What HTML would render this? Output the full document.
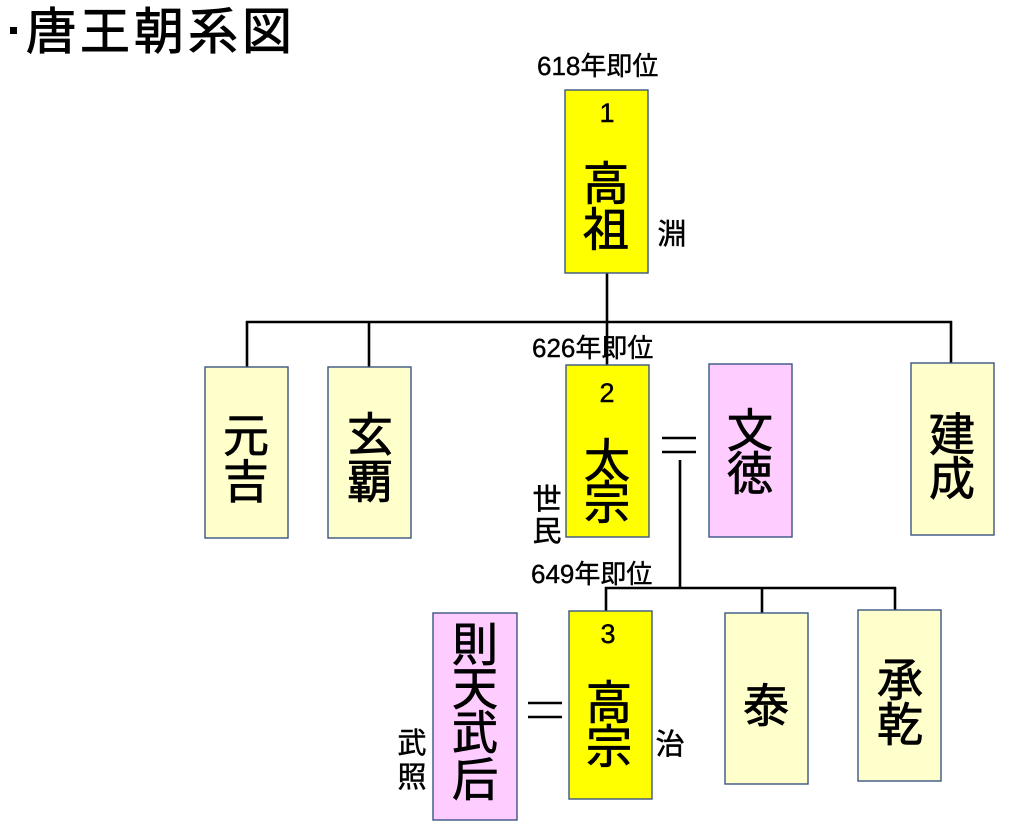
<!DOCTYPE html>
<html>
<head>
<meta charset="utf-8">
<style>
  html, body { margin: 0; padding: 0; background: #fff; }
  svg { display: block; }
  text { font-family: "Liberation Sans", "Noto Sans CJK JP", sans-serif; fill: #000; }
</style>
</head>
<body>
<svg width="1024" height="835" viewBox="0 0 1024 835" xmlns="http://www.w3.org/2000/svg">
  <!-- Title -->
  <rect x="10" y="27" width="7" height="7" fill="#000"/>
  <text x="26" y="49" font-size="50" letter-spacing="4" stroke="#000" stroke-width="0.9">唐王朝系図</text>

  <!-- Connectors -->
  <g stroke="#000" stroke-width="2.6" fill="none">
    <line x1="607" y1="273" x2="607" y2="365"/>
    <line x1="246" y1="322" x2="952" y2="322"/>
    <line x1="247" y1="321" x2="247" y2="367"/>
    <line x1="369" y1="321" x2="369" y2="367"/>
    <line x1="951" y1="321" x2="951" y2="363"/>
    <line x1="680" y1="460" x2="680" y2="589"/>
    <line x1="605" y1="588" x2="896" y2="588"/>
    <line x1="606" y1="587" x2="606" y2="611"/>
    <line x1="762" y1="587" x2="762" y2="613"/>
    <line x1="895" y1="587" x2="895" y2="611"/>
    <!-- equals signs -->
    <line x1="662" y1="438" x2="696" y2="438"/>
    <line x1="662" y1="452" x2="696" y2="452"/>
    <line x1="528" y1="703" x2="562" y2="703"/>
    <line x1="528" y1="717" x2="562" y2="717"/>
  </g>

  <!-- Boxes -->
  <g stroke="#3a5583" stroke-width="1.4">
    <rect x="565" y="90" width="83" height="183" fill="#FFFF00"/>
    <rect x="205" y="367" width="83" height="171" fill="#FFFFCC"/>
    <rect x="328" y="367" width="83" height="171" fill="#FFFFCC"/>
    <rect x="566" y="365" width="83" height="172" fill="#FFFF00"/>
    <rect x="709" y="364" width="83" height="173" fill="#FFCCFF"/>
    <rect x="911" y="363" width="83" height="172" fill="#FFFFCC"/>
    <rect x="569" y="611" width="83" height="188" fill="#FFFF00"/>
    <rect x="433" y="613" width="84" height="207" fill="#FFCCFF"/>
    <rect x="725" y="613" width="83" height="171" fill="#FFFFCC"/>
    <rect x="858" y="610" width="83" height="171" fill="#FFFFCC"/>
  </g>

  <!-- Accession labels -->
  <g font-size="26" stroke="#000" stroke-width="0.4">
    <text x="537" y="75">618年即位</text>
    <text x="532" y="357">626年即位</text>
    <text x="531" y="583">649年即位</text>
  </g>

  <!-- Numbers -->
  <g font-size="27" text-anchor="middle" stroke="#000" stroke-width="0.4">
    <text x="607" y="122">1</text>
    <text x="607" y="402">2</text>
    <text x="608" y="643">3</text>
  </g>

  <!-- Box names -->
  <g font-size="46" text-anchor="middle" stroke="#000" stroke-width="0.8">
    <text x="606" y="200">高</text>
    <text x="606" y="246">祖</text>

    <text x="246" y="452">元</text>
    <text x="246" y="498">吉</text>

    <text x="370" y="451">玄</text>
    <text x="370" y="498">覇</text>

    <text x="607" y="477">太</text>
    <text x="607" y="519">宗</text>

    <text x="750" y="447">文</text>
    <text x="750" y="490">徳</text>

    <text x="952" y="451">建</text>
    <text x="952" y="495">成</text>

    <text x="609" y="719">高</text>
    <text x="609" y="763">宗</text>

    <text x="475" y="661">則</text>
    <text x="475" y="705">天</text>
    <text x="475" y="749">武</text>
    <text x="475" y="796">后</text>

    <text x="766" y="722">泰</text>

    <text x="900" y="696">承</text>
    <text x="900" y="741">乾</text>
  </g>

  <!-- Personal names -->
  <g font-size="29" text-anchor="middle" stroke="#000" stroke-width="0.5">
    <text x="672" y="244">淵</text>
    <text x="547" y="509">世</text>
    <text x="547" y="541">民</text>
    <text x="412" y="753">武</text>
    <text x="412" y="787">照</text>
    <text x="670" y="754">治</text>
  </g>
</svg>
</body>
</html>
